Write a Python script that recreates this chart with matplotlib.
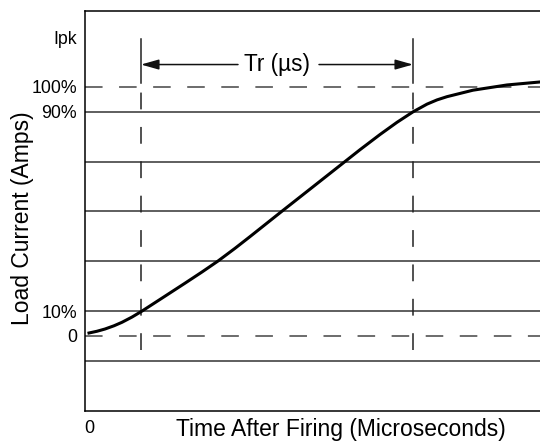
import numpy as np
import matplotlib
matplotlib.use("Agg")
import matplotlib.pyplot as plt

plt.rcParams['font.family'] = ['Liberation Sans', 'DejaVu Sans']

# load current rise curve (time in arbitrary units, current in % of peak)
t = [0.0, 0.8, 1.6, 2.5, 3.3, 4.3, 5.3, 7.3, 9.6, 11.3, 12.9, 14.6, 16.1,
     19.2, 22.3, 25.3, 27.1, 29.1, 30.8, 32.4, 33.8, 34.8, 35.8, 38.4,
     41.8, 45.1]
i_pct = [1.2, 1.9, 2.8, 4.1, 5.5, 7.6, 10.0, 15.2, 21.2, 25.7, 30.1, 35.2,
         39.9, 49.8, 59.6, 69.1, 74.8, 80.9, 85.8, 90.0, 93.1, 94.8, 96.1,
         98.7, 100.8, 102.0]

solid_levels = [-10, 10, 30, 50, 70, 90]
dashed_levels = [0, 100]
ytick_pos = [0, 10, 90, 100, 120]
ytick_lab = ['0', '10%', '90%', '100%', 'Ipk']

t10 = 5.2   # time at 10 %
t90 = 32.4  # time at 90 %
arrow_y = 109

fig = plt.figure(figsize=(5.4, 4.41), dpi=100)
ax = fig.add_axes([85/540, 1 - 410.7/441, 1 - 85/540, (410.7 - 11)/441])

gray = '#333333'
for lv in solid_levels:
    ax.axhline(lv, color=gray, lw=1.1)
for lv in dashed_levels:
    ax.axhline(lv, color='#444444', lw=1.1, dashes=(11.5, 10.8))

# rise time markers
for tx in [t10, t90]:
    ax.plot([tx, tx], [-5.6, 100], color='#222222', lw=1.1, dashes=(11, 11.5))
    ax.plot([tx, tx], [101.5, 119.3], color='#222222', lw=1.1)

arr = dict(arrowstyle='-|>,head_length=0.6,head_width=0.17', color='#111111',
           lw=1.1, shrinkA=0, shrinkB=0, mutation_scale=18)
ax.annotate('', xy=(t10, arrow_y), xytext=(14.9, arrow_y), arrowprops=arr)
ax.annotate('', xy=(t90, arrow_y), xytext=(23.0, arrow_y), arrowprops=arr)
ax.text(18.75, arrow_y, 'Tr (\u00b5s)', ha='center', va='center', fontsize=16.3)

ax.plot(t, i_pct, color='black', lw=2.2, solid_joinstyle='round')

ax.set_xlim(-0.4, 45.1)
ax.set_ylim(-30, 130.5)

ax.set_xticks([0])
ax.set_xticklabels(['0'], fontsize=13)
ax.set_yticks(ytick_pos)
ax.set_yticklabels(ytick_lab, fontsize=12.8)
ax.tick_params(axis='both', length=0)
ax.tick_params(axis='y', pad=5.8)
ax.tick_params(axis='x', pad=6.5)

ax.spines['right'].set_visible(False)
for s in ['left', 'top', 'bottom']:
    ax.spines[s].set_linewidth(1.1)

ax.set_xlabel('Time After Firing (Microseconds)', fontsize=16.5)
ax.xaxis.set_label_coords(0.5626, -0.0458)
ax.xaxis.label.set_va('center')
ax.set_ylabel('Load Current (Amps)', fontsize=16.5)
ax.yaxis.set_label_coords(-0.137, 0.481)
ax.yaxis.label.set_va('center')

fig.savefig('out.png', dpi=100)
